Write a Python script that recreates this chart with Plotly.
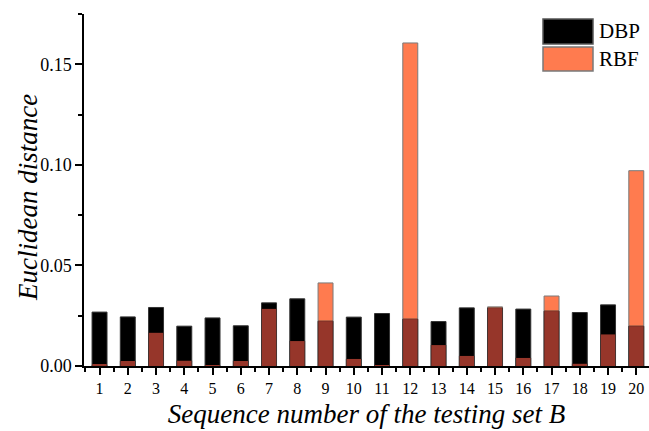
import numpy as np
import plotly.graph_objects as go

# Euclidean distance per sample of testing set B
samples = list(range(1, 21))
dbp = [0.0268, 0.0244, 0.0291, 0.0198, 0.0239, 0.0200, 0.0314, 0.0334, 0.0223, 0.0243,
       0.0261, 0.0233, 0.0221, 0.0289, 0.0288, 0.0283, 0.0273, 0.0266, 0.0304, 0.0198]
rbf = [0.0005, 0.0025, 0.0165, 0.0026, 0.0003, 0.0025, 0.0284, 0.0124, 0.0413, 0.0035,
       0.0002, 0.1606, 0.0104, 0.0050, 0.0294, 0.0040, 0.0348, 0.0011, 0.0157, 0.0971]
y_ticks = [0.00, 0.05, 0.10, 0.15]
y_tick_text = ["0.00", "0.05", "0.10", "0.15"]

DBP_COLOR = "#000000"
RBF_COLOR = "#FF7B4F"
SHARED_COLOR = "#96362A"
EDGE = "#7a7a7a"
FONT = "Liberation Serif, Times New Roman, serif"
BAR_W = 0.53

W, H = 649, 431
L, R, T, B = 84, 0, 14, 65
PW, PH = W - L - R, H - T - B


def px(x):
    return (x - L) / PW


def py(y):
    return (H - B - y) / PH


fig = go.Figure()
fig.add_trace(go.Bar(x=samples, y=rbf, width=BAR_W, name="RBF",
                     marker=dict(color=RBF_COLOR, line=dict(color=EDGE, width=1)),
                     showlegend=False))
fig.add_trace(go.Bar(x=samples, y=dbp, width=BAR_W, name="DBP",
                     marker=dict(color=DBP_COLOR, line=dict(color="#333333", width=1)),
                     showlegend=False))
# portion where both series overlap
fig.add_trace(go.Bar(x=samples, y=np.minimum(dbp, rbf), width=BAR_W - 0.02, name="shared",
                     marker=dict(color=SHARED_COLOR, line=dict(width=0)),
                     showlegend=False, hoverinfo="skip"))

# legend drawn as large swatches
legend_items = [("DBP", DBP_COLOR, "#555555", 19, 44), ("RBF", RBF_COLOR, EDGE, 47, 71)]
for label, col, edge, top, bot in legend_items:
    fig.add_shape(type="rect", xref="paper", yref="paper",
                  x0=px(543), x1=px(593), y0=py(bot), y1=py(top),
                  fillcolor=col, line=dict(color=edge, width=1.5))
    fig.add_annotation(xref="paper", yref="paper", x=px(597), y=py((top + bot) / 2),
                       text=label, showarrow=False, xanchor="left", yanchor="middle",
                       font=dict(family=FONT, size=21, color="black"))

# vertical axis title
fig.add_annotation(xref="paper", yref="paper", x=px(28), y=py(198),
                   text="<i>Euclidean distance</i>", textangle=-90, showarrow=False,
                   xanchor="center", yanchor="middle",
                   font=dict(family=FONT, size=27, color="black"))

fig.update_layout(
    width=W, height=H,
    margin=dict(l=L, r=R, t=T, b=B),
    barmode="overlay",
    plot_bgcolor="white", paper_bgcolor="white",
    font=dict(family=FONT, size=16, color="black"),
    showlegend=False,
)
fig.update_xaxes(
    range=[0.45, 20.45], tickmode="array", tickvals=samples,
    ticktext=[str(s) for s in samples],
    ticks="outside", ticklen=7, tickwidth=1.5, tickcolor="black",
    minor=dict(tick0=0.5, dtick=1, ticks="outside", ticklen=4, tickwidth=1.5, tickcolor="black"),
    showline=True, linecolor="black", linewidth=1.5, showgrid=False, zeroline=False,
    tickfont=dict(family=FONT, size=16, color="black"),
    title=dict(text="<i>Sequence number of the testing set B</i>",
               font=dict(family=FONT, size=27, color="black"), standoff=8),
)
fig.update_yaxes(
    range=[0, 0.175], tickmode="array", tickvals=y_ticks, ticktext=y_tick_text,
    ticks="outside", ticklen=7, tickwidth=1.5, tickcolor="black",
    minor=dict(dtick=0.025, ticks="outside", ticklen=4, tickwidth=1.5, tickcolor="black"),
    showline=True, linecolor="black", linewidth=1.5, showgrid=False, zeroline=False,
    tickfont=dict(family=FONT, size=18, color="black"),
)

fig.write_html("out.html")
